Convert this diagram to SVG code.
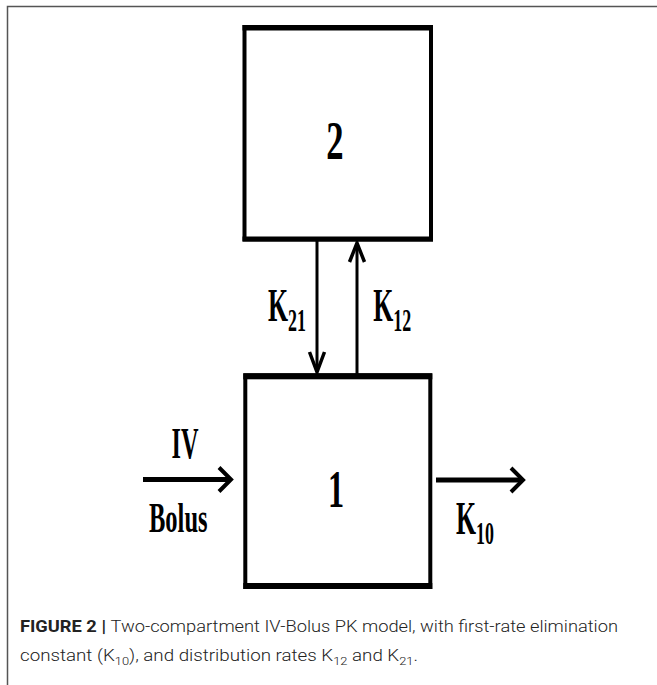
<svg xmlns="http://www.w3.org/2000/svg" width="657" height="685" viewBox="0 0 657 685">
<style>
.lbl{font-family:"Liberation Serif","Times New Roman",serif;font-weight:bold;fill:#000}
.cap{font-family:Roboto,"Liberation Sans",Arial,sans-serif;font-weight:300;font-size:16px;fill:#222}
.ln{stroke:#000;fill:none;stroke-linecap:butt}
.head{stroke:#000;fill:none;stroke-linejoin:miter}
.frame{stroke:#555;stroke-width:1.5;fill:none}
</style>
<rect x="0" y="0" width="657" height="685" fill="#fff"/>
<path class="frame" d="M7.5,685 V6.5 H657"/>
<g id="node-2">
<rect x="244.5" y="27" width="186.5" height="212.5" fill="none" stroke="#000" stroke-width="4"/>
<rect x="242.5" y="25" width="190.5" height="5.5" fill="#000"/>
<rect x="242.5" y="236.5" width="190.5" height="5" fill="#000"/>
<text class="lbl" font-size="55" text-anchor="middle" transform="translate(335,159) scale(0.63,1)">2</text>
</g>
<g id="node-1">
<rect x="245.3" y="375.3" width="185" height="211.7" fill="none" stroke="#000" stroke-width="4"/>
<rect x="243.3" y="373.3" width="189" height="6" fill="#000"/>
<rect x="243.3" y="583" width="189" height="6" fill="#000"/>
<text class="lbl" font-size="52" text-anchor="middle" transform="translate(336,506.5) scale(0.62,1)">1</text>
</g>
<g id="connectors">
<line class="ln" x1="317" y1="241" x2="317" y2="370" stroke-width="3"/>
<path class="head" d="M309.5,352 L317,372 L324.5,352" stroke-width="3.5"/>
<line class="ln" x1="357" y1="374" x2="357" y2="245" stroke-width="3"/>
<path class="head" d="M349.5,262 L357,243 L364.5,262" stroke-width="3.5"/>
<line class="ln" x1="143" y1="479.5" x2="230" y2="479.5" stroke-width="5"/>
<path class="head" d="M219,467.5 L231,479.5 L219,491.5" stroke-width="4"/>
<line class="ln" x1="436" y1="480" x2="523" y2="480" stroke-width="5"/>
<path class="head" d="M511,468 L523,480 L511,492" stroke-width="4"/>
</g>
<g id="labels">
<text class="lbl" font-size="46" transform="translate(268,321) scale(0.56,1)">K<tspan font-size="32" dy="10">21</tspan></text>
<text class="lbl" font-size="46" transform="translate(373.3,321) scale(0.56,1)">K<tspan font-size="32" dy="10">12</tspan></text>
<text class="lbl" font-size="46" transform="translate(456,534) scale(0.56,1)">K<tspan font-size="32" dy="10">10</tspan></text>
<text class="lbl" font-size="45" text-anchor="middle" transform="translate(185,458.3) scale(0.54,1)">IV</text>
<text class="lbl" font-size="43" text-anchor="middle" transform="translate(178.3,531.7) scale(0.57,1)">Bolus</text>
</g>
<g id="caption">
<text class="cap" x="20" y="632" textLength="598" lengthAdjust="spacingAndGlyphs"><tspan font-weight="bold">FIGURE 2 | </tspan>Two-compartment IV-Bolus PK model, with first-rate elimination</text>
<text class="cap" x="20" y="661" textLength="398" lengthAdjust="spacingAndGlyphs">constant (K<tspan font-size="11" dy="4">10</tspan><tspan dy="-4">), and distribution rates K</tspan><tspan font-size="11" dy="4">12</tspan><tspan dy="-4"> and K</tspan><tspan font-size="11" dy="4">21</tspan><tspan dy="-4">.</tspan></text>
</g>
</svg>
